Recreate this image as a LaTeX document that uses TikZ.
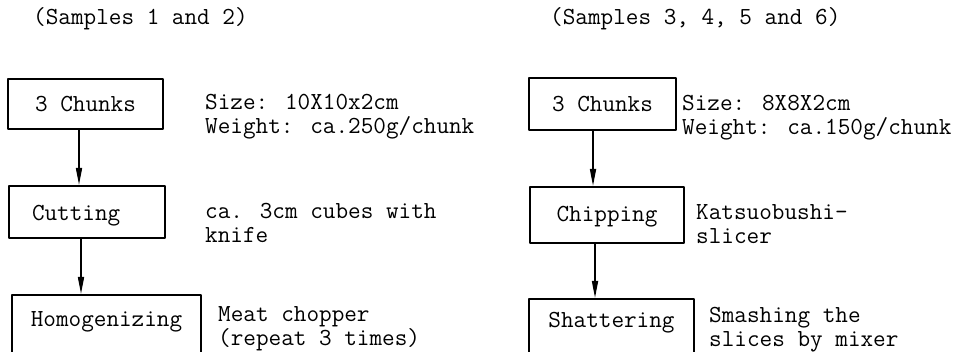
\documentclass[tikz,border=0pt]{standalone}
\usepackage{tikz}
\usetikzlibrary{arrows.meta}

\begin{document}
\begin{tikzpicture}[line cap=round,line join=round,>={Triangle[length=17pt,width=6pt]},x=1pt,y=-1pt,
    every node/.style={font=\ttfamily\fontsize{24.5}{24}\selectfont},
    stepbox/.style={draw,line width=1.6pt,anchor=north,inner sep=0pt},
    note/.style={anchor=base west,align=left,inner sep=0pt},
    head/.style={anchor=base west,inner sep=0pt}]
            \useasboundingbox (0,0) rectangle (957,352);
            \clip (0,0) rectangle (957,352);
            % samples 1 and 2
            \node[head] (lhead) at (33,25) {(Samples 1 and 2)};
            \node[stepbox,minimum width=155,text height=32.5,text depth=17.5] (lchunks) at (85.5,78) {3 Chunks};
            \node[stepbox,minimum width=156,text height=35,text depth=17] (lcut) at (87,185) {\makebox[110pt][l]{Cutting}};
            \node[stepbox,minimum width=189,text height=32,text depth=50] (lhomo) at (106.5,294) {Homogenizing};
            \node[note] (lsize) at (205,134) {Size: 10X10x2cm\\Weight: ca.250g/chunk};
            \node[note] (lknife) at (205,243) {ca. 3cm cubes with\\knife};
            \node[note] (lmeat) at (218,345.5) {Meat chopper\\(repeat 3 times)};
            \draw[line width=1.6pt,->] ([xshift=-6.5pt]lchunks.south) -- ([xshift=-6.5pt]lchunks.south |- lcut.north);
            \draw[line width=1.6pt,->] ([xshift=-6pt]lcut.south) -- ([xshift=-6pt]lcut.south |- lhomo.north);
            % samples 3, 4, 5 and 6
            \node[head] (rhead) at (550,25) {(Samples 3, 4, 5 and 6)};
            \node[stepbox,minimum width=147,text height=34,text depth=18] (rchunks) at (602.5,77) {3 Chunks};
            \node[stepbox,minimum width=154,text height=35,text depth=21] (rchip) at (607,186) {Chipping};
            \node[stepbox,minimum width=165,text height=29,text depth=50] (rshat) at (611.5,298) {Shattering};
            \node[note] (rsize) at (682,134.5) {Size: 8X8X2cm\\Weight: ca.150g/chunk};
            \node[note] (rslicer) at (696,244) {Katsuobushi-\\slicer};
            \node[note] (rmixer) at (709,346) {Smashing the\\slices by mixer};
            \draw[line width=1.6pt,->] ([xshift=-9.5pt]rchunks.south) -- ([xshift=-9.5pt]rchunks.south |- rchip.north);
            \draw[line width=1.6pt,->] ([xshift=-12pt]rchip.south) -- ([xshift=-12pt]rchip.south |- rshat.north);
            \end{tikzpicture}
\end{document}
